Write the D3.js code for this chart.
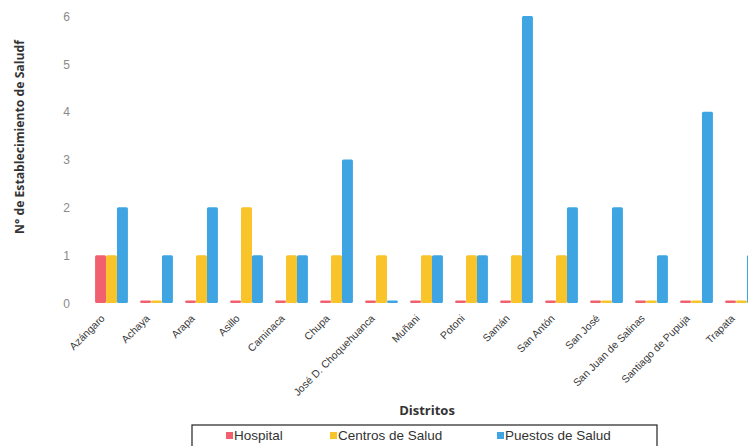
<!DOCTYPE html>
<html><head><meta charset="utf-8">
<script src="https://cdn.jsdelivr.net/npm/d3@7"></script>
<style>body{margin:0;background:#fff}svg{display:block}</style>
</head><body>
<script>
const categories = ["Azángaro","Achaya","Arapa","Asillo","Caminaca","Chupa","José D. Choquehuanca","Muñani","Potoni","Samán","San Antón","San José","San Juan de Salinas","Santiago de Pupuja","Trapata"];
const seriesNames = ["Hospital","Centros de Salud","Puestos de Salud"];
const hospital = [1,0,0,0,0,0,0,0,0,0,0,0,0,0,0];
const centros  = [1,0,1,2,1,1,1,1,1,1,1,0,0,0,0];
const puestos  = [2,1,2,1,1,3,0,1,1,6,2,2,1,4,1];
const yTicks = [0,1,2,3,4,5,6];
const colors = ["#f1606e","#f8c42a","#3ea5e2"];

const W = 748, H = 446;
const svg = d3.select("body").append("svg").attr("width", W).attr("height", H);

const x = d3.scaleBand().domain(categories).range([89, 764]).paddingInner(0.27).paddingOuter(0.135);
const xs = d3.scaleBand().domain(seriesNames).range([0, x.bandwidth()]);
const y = d3.scaleLinear().domain([0, 6]).range([303, 16]);

const series = [hospital, centros, puestos];

// y tick labels
const yAxis = d3.axisLeft(y).tickValues(yTicks).tickSize(0).tickPadding(0).tickFormat(d3.format("d"));
const ga = svg.append("g").attr("transform", "translate(70,0)").call(yAxis);
ga.select(".domain").remove();
ga.selectAll("text").attr("font-family", "Liberation Sans, Arial, sans-serif").attr("font-size", 12).attr("fill", "#8a8a8a").attr("dy", "0.35em");

// bars
series.forEach((vals, si) => {
  svg.append("g").selectAll("rect").data(vals).join("rect")
    .attr("x", (d, i) => x(categories[i]) + xs(seriesNames[si]))
    .attr("width", xs.bandwidth())
    .attr("y", d => Math.min(y(d), y(0) - 2.5))
    .attr("height", d => Math.max(2.5, y(0) - y(d)))
    .attr("rx", 1.5)
    .attr("fill", colors[si]);
});

// x labels
const gx = svg.append("g");
categories.forEach(c => {
  const cx = x(c) + x.bandwidth() / 2 - 6;
  gx.append("text")
    .attr("transform", `translate(${cx},319) rotate(-45)`)
    .attr("text-anchor", "end")
    .attr("font-family", "Liberation Sans, Arial, sans-serif")
    .attr("font-size", 10.5)
    .attr("fill", "#3a3a3a")
    .text(c);
});

// axis titles
svg.append("text")
  .attr("transform", "translate(24,137) rotate(-90)")
  .attr("text-anchor", "middle")
  .attr("font-family", "Open Sans, DejaVu Sans, sans-serif")
  .attr("font-weight", "bold")
  .attr("font-size", 12.2)
  .attr("fill", "#333")
  .text("N° de Establecimiento de Saludf");

svg.append("text")
  .attr("x", 427).attr("y", 415)
  .attr("text-anchor", "middle")
  .attr("font-family", "Open Sans, DejaVu Sans, sans-serif")
  .attr("font-weight", "bold")
  .attr("font-size", 13)
  .attr("fill", "#333")
  .text("Distritos");

// legend
const lg = svg.append("g");
lg.append("rect").attr("x", 192).attr("y", 425).attr("width", 465).attr("height", 30)
  .attr("fill", "none").attr("stroke", "#222").attr("stroke-width", 1.2);
const legendX = [226, 330, 497];
seriesNames.forEach((s, i) => {
  lg.append("rect").attr("x", legendX[i]).attr("y", 432).attr("width", 7).attr("height", 7).attr("fill", colors[i]);
  lg.append("text").attr("x", legendX[i] + 8).attr("y", 440)
    .attr("font-family", "Liberation Sans, Arial, sans-serif")
    .attr("font-size", 13.5).attr("fill", "#333").text(s);
});
</script>
</body></html>
